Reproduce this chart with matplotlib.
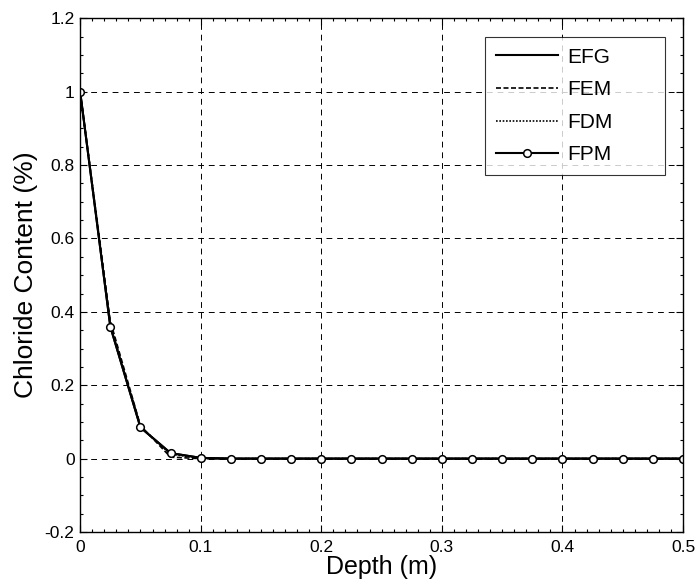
import numpy as np
import matplotlib
matplotlib.use("Agg")
import matplotlib.pyplot as plt
from matplotlib.ticker import MultipleLocator

plt.rcParams['font.family'] = ['Liberation Sans', 'DejaVu Sans']

depth = [0.0, 0.025, 0.05, 0.075, 0.1, 0.125, 0.15, 0.175, 0.2, 0.225, 0.25,
         0.275, 0.3, 0.325, 0.35, 0.375, 0.4, 0.425, 0.45, 0.475, 0.5]
efg = [1.0, 0.36, 0.085, 0.015, 0.002, 0.0, 0.0, 0.0, 0.0, 0.0, 0.0,
       0.0, 0.0, 0.0, 0.0, 0.0, 0.0, 0.0, 0.0, 0.0, 0.0]
fem = [1.0, 0.375, 0.09, 0.004, 0.0, 0.0, 0.0, 0.0, 0.0, 0.0, 0.0,
       0.0, 0.0, 0.0, 0.0, 0.0, 0.0, 0.0, 0.0, 0.0, 0.0]
fdm = [1.0, 0.365, 0.087, 0.012, 0.001, 0.0, 0.0, 0.0, 0.0, 0.0, 0.0,
       0.0, 0.0, 0.0, 0.0, 0.0, 0.0, 0.0, 0.0, 0.0, 0.0]
fpm = [1.0, 0.36, 0.085, 0.015, 0.002, 0.0, 0.0, 0.0, 0.0, 0.0, 0.0,
       0.0, 0.0, 0.0, 0.0, 0.0, 0.0, 0.0, 0.0, 0.0, 0.0]

x_ticks = [0, 0.1, 0.2, 0.3, 0.4, 0.5]
x_tick_labels = ['0', '0.1', '0.2', '0.3', '0.4', '0.5']
y_ticks = [-0.2, 0, 0.2, 0.4, 0.6, 0.8, 1.0, 1.2]
y_tick_labels = ['-0.2', '0', '0.2', '0.4', '0.6', '0.8', '1', '1.2']

fig = plt.figure(figsize=(6.97, 5.83), dpi=100)
ax = fig.add_axes([0.115, 0.0875, 0.865, 0.881])

ax.plot(depth, efg, '-', color='black', lw=1.5, label='EFG')
ax.plot(depth, fem, color='black', lw=1.2, ls=(0, (3, 1.5)), label='FEM')
ax.plot(depth, fdm, color='black', lw=1.2, ls=(0, (1, 1)), label='FDM')
ax.plot(depth, fpm, '-', color='black', lw=1.5, marker='o', markersize=5.5,
        markerfacecolor='white', markeredgecolor='black', markeredgewidth=1.1,
        label='FPM')

ax.set_xlim(0, 0.5)
ax.set_ylim(-0.2, 1.2)
ax.set_xticks(x_ticks)
ax.set_xticklabels(x_tick_labels)
ax.set_yticks(y_ticks)
ax.set_yticklabels(y_tick_labels)
ax.xaxis.set_minor_locator(MultipleLocator(0.01))
ax.yaxis.set_minor_locator(MultipleLocator(0.05))
ax.tick_params(which='both', direction='in', top=True, right=True,
               labelsize=12.5, width=0.8)
ax.tick_params(axis='x', which='major', pad=6)
ax.tick_params(axis='y', which='major', pad=4)
ax.tick_params(which='major', length=5)
ax.tick_params(which='minor', length=2.5)
for s in ax.spines.values():
    s.set_linewidth(1.0)

ax.grid(True, which='major', color='black', ls=(0, (6, 5)), lw=0.7)

ax.set_xlabel('Depth (m)', fontsize=18, labelpad=0)
ax.set_ylabel('Chloride Content (%)', fontsize=19, labelpad=5)

# legend box spans a fixed width in axes coordinates, extra space at the right
leg = ax.legend(loc='upper left', bbox_to_anchor=(0.672, 0.696, 0.298, 0.267),
                mode='expand', fontsize=15,
                frameon=True, fancybox=False, edgecolor='black',
                handlelength=3.0, borderpad=0.5, labelspacing=0.65,
                handletextpad=0.45, borderaxespad=0)
leg.get_frame().set_linewidth(0.8)

fig.savefig('out.png', dpi=100, facecolor='white')
